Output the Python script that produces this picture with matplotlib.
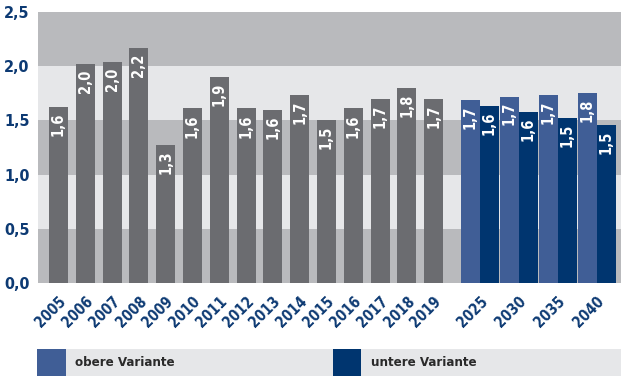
import numpy as np
import matplotlib
matplotlib.use('Agg')
import matplotlib.pyplot as plt
import matplotlib.patches as patches
import matplotlib.transforms as mtransforms

plt.rcParams['font.family'] = ['DejaVu Sans']
plt.rcParams['font.stretch'] = 'condensed'

# Geburtenziffer: Ist-Werte und Vorausberechnung
years_hist = ['2005', '2006', '2007', '2008', '2009', '2010', '2011', '2012',
              '2013', '2014', '2015', '2016', '2017', '2018', '2019']
values_hist = [1.62, 2.02, 2.04, 2.17, 1.27, 1.61, 1.90, 1.61,
               1.60, 1.73, 1.50, 1.61, 1.70, 1.80, 1.70]
years_proj = ['2025', '2030', '2035', '2040']
values_upper = [1.69, 1.72, 1.73, 1.75]
values_lower = [1.63, 1.58, 1.52, 1.46]
yticks = [0.0, 0.5, 1.0, 1.5, 2.0, 2.5]
legend_labels = ['obere Variante', 'untere Variante']

c_hist = '#6b6c70'
c_upper = '#405e96'
c_lower = '#00356f'
c_dark = '#b9babd'
c_light = '#e6e7e9'
c_tick = '#0d3a73'

W, H = 621, 376
fig = plt.figure(figsize=(W / 100, H / 100), dpi=100)
ax = fig.add_axes([38 / W, (H - 283) / H, (W - 38) / W, (283 - 12) / H])

# Hintergrundstreifen
for i in range(len(yticks) - 1):
    ax.axhspan(yticks[i], yticks[i + 1], color=c_dark if i % 2 == 0 else c_light,
               lw=0, zorder=0)

bw = 0.71
x_hist = np.arange(len(years_hist))
x_proj = 15.73 + 1.45 * np.arange(len(years_proj))


def label_bars(bars, vals):
    for b, v in zip(bars, vals):
        ax.annotate(f'{v:.1f}'.replace('.', ','),
                    (b.get_x() + b.get_width() / 2, b.get_height()),
                    xytext=(0, -4), textcoords='offset points',
                    rotation=90, ha='center', va='top', color='white',
                    fontsize=10.5, fontweight='bold', zorder=4)


b1 = ax.bar(x_hist, values_hist, bw, color=c_hist, zorder=3)
b2 = ax.bar(x_proj - bw / 2, values_upper, bw, color=c_upper, zorder=3)
b3 = ax.bar(x_proj + bw / 2, values_lower, bw, color=c_lower, zorder=3)
label_bars(b1, values_hist)
label_bars(b2, values_upper)
label_bars(b3, values_lower)

ax.set_xlim(-0.765, 20.99)
ax.set_ylim(0, 2.5)
ax.set_yticks(yticks)
ax.set_yticklabels([f'{t:.1f}'.replace('.', ',') for t in yticks],
                   fontsize=11.5, fontweight='bold', color=c_tick)
ax.set_xticks(np.concatenate([x_hist, x_proj]))
ax.set_xticklabels(years_hist + years_proj, rotation=45, ha='right',
                   rotation_mode='anchor', fontsize=10.5, fontweight='bold',
                   color=c_tick)
offset = mtransforms.ScaledTranslation(6 / 100, 0, fig.dpi_scale_trans)
for lbl in ax.get_xticklabels():
    lbl.set_transform(lbl.get_transform() + offset)
ax.tick_params(length=0)
ax.tick_params(axis='x', pad=8)
ax.tick_params(axis='y', pad=6)
for s in ax.spines.values():
    s.set_visible(False)

# Legende als grauer Balken unter dem Diagramm
def fig_rect(x0, y0, x1, y1, color):
    fig.patches.append(patches.Rectangle((x0 / W, 1 - y1 / H), (x1 - x0) / W,
                                         (y1 - y0) / H, transform=fig.transFigure,
                                         color=color, lw=0))


fig_rect(37, 349, 621, 376, c_light)
fig_rect(37, 349, 66, 376, c_upper)
fig_rect(333, 349, 361, 376, c_lower)
fig.text(75 / W, 1 - 363 / H, legend_labels[0], fontsize=9.5, fontweight='bold',
         color='#2a2a2a', va='center')
fig.text(371 / W, 1 - 363 / H, legend_labels[1], fontsize=9.5, fontweight='bold',
         color='#2a2a2a', va='center')

fig.savefig('out.png', dpi=100)
